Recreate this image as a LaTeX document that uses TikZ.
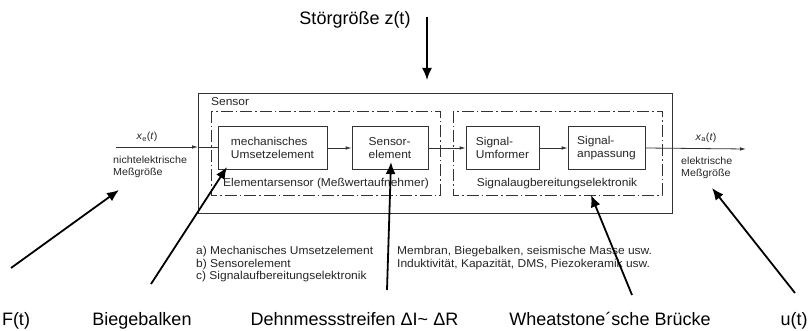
\documentclass[tikz,border=0pt]{standalone}
\usepackage{fontspec}
\setmainfont{Liberation Sans}
\newfontfamily\scanfont[FakeStretch=1.05]{Liberation Sans}
\usetikzlibrary{arrows.meta}
\begin{document}
\begin{tikzpicture}[x=1pt,y=-1pt,
  small/.style={font=\scanfont\fontsize{11.4}{12.5}\selectfont, text=black!85, inner sep=0pt},
  side/.style={font=\scanfont\fontsize{10.2}{12}\selectfont, text=black!85, inner sep=0pt},
  big/.style={font=\fontsize{18}{21}\selectfont, inner sep=0pt},
  blk/.style={draw=black!80, line width=0.8pt, minimum height=43pt, inner sep=0pt, align=left, font=\scanfont\fontsize{11.4}{13}\selectfont, text=black!85},
  dashbox/.style={draw=black!80, line width=0.8pt, dash pattern=on 12pt off 3pt on 1.5pt off 3pt},
  sig/.style={draw=black!80, line width=0.8pt, -{Latex[length=6pt,width=3.5pt]}},
  ptr/.style={draw=black, line width=1.8pt, -{Latex[length=12pt,width=10pt]}}
]
\useasboundingbox (0,0) rectangle (809,331);
\fill[white] (0,0) rectangle (809,331);

% boxes
\draw[draw=black!80, line width=0.8pt] (198,93) rectangle (672,213);
\node[small, anchor=base west] (sensorlbl) at (211,105.5) {Sensor};
\draw[dashbox] (211,111) rectangle (440,195);
\draw[dashbox] (453,111) rectangle (662,195);

\node[blk, minimum width=109pt] (mech) at (272.5,148) {mechanisches\\Umsetzelement};
\node[blk, minimum width=76pt] (sens) at (390,148) {Sensor-\\element};
\node[blk, minimum width=73pt] (umf) at (502.5,148) {Signal-\\Umformer};
\node[blk, minimum width=77pt] (anp) at (606.5,148) {Signal-\\anpassung};

\node[small, anchor=base] (elemlbl) at (326,187) {Elementarsensor (Meßwertaufnehmer)};
\node[small, anchor=base] (siglbl) at (557,187) {Signalaugbereitungselektronik};

% signal path
\coordinate (xin) at (116,147);
\coordinate (xinb) at (198,147);
\coordinate (xout) at (746,149);
\draw[sig] (xin) -- (xinb);
\draw[draw=black!80, line width=0.8pt] (xinb) -- (mech.west |- xinb);
\draw[sig] (mech.east) -- (sens.west);
\draw[sig] (sens.east) -- (umf.west);
\draw[sig] (umf.east) -- (anp.west);
\draw[sig] (anp.east) -- (xout);

\node[side] (xe) at (147,137) {\textit{x}\textsubscript{e}(\textit{t})};
\node[side, anchor=north west, align=left] (nel) at (113,156) {nichtelektrische\\Meßgröße};
\node[side] (xa) at (706,137.5) {\textit{x}\textsubscript{a}(\textit{t})};
\node[side, anchor=north west, align=left] (el) at (681,156.5) {elektrische\\Meßgröße};

% list
\node[small, anchor=north west, align=left] (list1) at (196,246.5) {a)\ Mechanisches Umsetzelement\\b)\ Sensorelement\\c)\ Signalaufbereitungselektronik};
\node[small, anchor=north west, align=left] (list2) at (397,246.5) {Membran, Biegebalken, seismische Masse usw.\\Induktivität, Kapazität, DMS, Piezokeramik usw.};

% top disturbance
\node[big, anchor=base] (z) at (355,25) {Störgröße z(t)};
\coordinate (za) at (427,17);
\coordinate (zb) at (427,80);
\draw[ptr] (za) -- (zb);

% bottom labels
\node[big, anchor=base] (F) at (16,326) {F(t)};
\node[big, anchor=base] (bieg) at (142,326) {Biegebalken};
\node[big, anchor=base] (dms) at (354.5,326) {Dehnmessstreifen ΔI\textasciitilde\ ΔR};
\node[big, anchor=base] (wh) at (610,326) {Wheatstone´sche Brücke};
\node[big, anchor=base] (u) at (794,326) {u(t)};

% pointer arrows
\coordinate (Fa) at (11,268);  \coordinate (Fb) at (119,190);
\coordinate (Ba) at (151,284); \coordinate (Bb) at (227,167);
\coordinate (Da) at (387,290); \coordinate (Db) at (391,162);
\coordinate (Wa) at (632,295); \coordinate (Wb) at (591,195);
\coordinate (Ua) at (795,293); \coordinate (Ub) at (712,188);
\draw[ptr] (Fa) -- (Fb);
\draw[ptr] (Ba) -- (Bb);
\draw[ptr] (Da) -- (Db);
\draw[ptr] (Wa) -- (Wb);
\draw[ptr] (Ua) -- (Ub);
\end{tikzpicture}
\end{document}
